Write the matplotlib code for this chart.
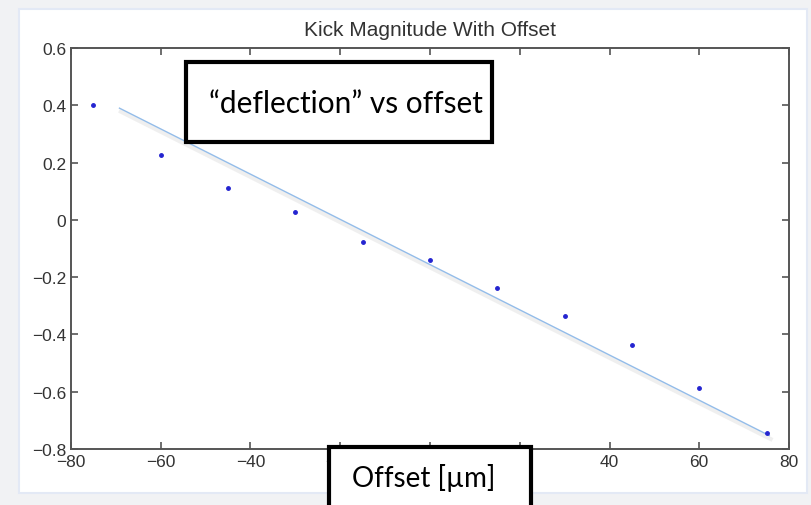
import matplotlib
matplotlib.use("Agg")
import matplotlib.pyplot as plt
import matplotlib.patheffects as pe
from matplotlib.patches import Rectangle

# kick measurements vs beam offset
offset = [-75, -60, -45, -30, -15, 0, 15, 30, 45, 60, 75]
kick = [0.40, 0.227, 0.110, 0.028, -0.077, -0.140, -0.239, -0.335, -0.438, -0.587, -0.743]

# straight-line fit, end points
fit_x = [-69.2, 75.6]
fit_y = [0.39, -0.753]

x_ticks = [-80, -60, -40, -20, 0, 20, 40, 60, 80]
y_ticks = [-0.8, -0.6, -0.4, -0.2, 0, 0.2, 0.4, 0.6]

W, H = 812, 506
fig = plt.figure(figsize=(W / 100, H / 100), dpi=100, facecolor="#f1f2f4")

# white slide panel behind the plot
panel = Rectangle((19 / W, 1 - 494 / H), (807 - 19) / W, (494 - 10) / H,
                  transform=fig.transFigure, facecolor="white",
                  edgecolor="#e3e9f5", linewidth=1.5, zorder=-1)
fig.patches.append(panel)

ax = fig.add_axes([71 / W, 1 - 450 / H, (789 - 71) / W, (450 - 49) / H])
ax.set_facecolor("white")

ax.plot(fit_x, fit_y, color="#93bce9", linewidth=1.0, zorder=2,
        path_effects=[pe.SimpleLineShadow(offset=(1, -2.5), shadow_color="#999999",
                                          alpha=0.15, linewidth=3),
                      pe.Normal()])
ax.plot(offset, kick, linestyle="none", marker="o", markersize=2.5,
        color="#2424d0", zorder=3)

ax.set_xlim(-80, 80)
ax.set_ylim(-0.8, 0.6)
ax.set_xticks(x_ticks)
ax.set_yticks(y_ticks)
ax.set_xticklabels([str(t).replace("-", "\u2212") for t in x_ticks])
ax.set_yticklabels([("%g" % t).replace("-", "\u2212") for t in y_ticks])
ax.tick_params(direction="in", length=5, width=1.2, color="#555555",
               top=True, right=True, labelsize=12.5, labelcolor="#333333", pad=3.5)
for lbl in ax.get_xticklabels() + ax.get_yticklabels():
    lbl.set_family("Liberation Sans")
for s in ax.spines.values():
    s.set_color("#555555")
    s.set_linewidth(1.4)

ax.set_title("Kick Magnitude With Offset", family="Liberation Sans", fontsize=15,
             color="#333333", pad=9)

# overlaid slide text boxes
box1 = Rectangle((186 / W, 1 - 143 / H), (492 - 186) / W, (143 - 63) / H,
                 transform=fig.transFigure, facecolor="white", edgecolor="black",
                 linewidth=3, zorder=5)
fig.patches.append(box1)
fig.text(209 / W, 1 - 104 / H, "\u201cdeflection\u201d vs offset", family="Lato",
         fontsize=21.5, va="center", ha="left", zorder=6)

box2 = Rectangle((329 / W, 1 - 520 / H), (531 - 329) / W, (520 - 448) / H,
                 transform=fig.transFigure, facecolor="white", edgecolor="black",
                 linewidth=3, zorder=5, clip_on=False)
fig.patches.append(box2)
fig.text(352 / W, 1 - 478 / H, "Offset [\u00b5m]", family="Lato",
         fontsize=20, va="center", ha="left", zorder=6)

fig.savefig("out.png", dpi=100, facecolor=fig.get_facecolor())
